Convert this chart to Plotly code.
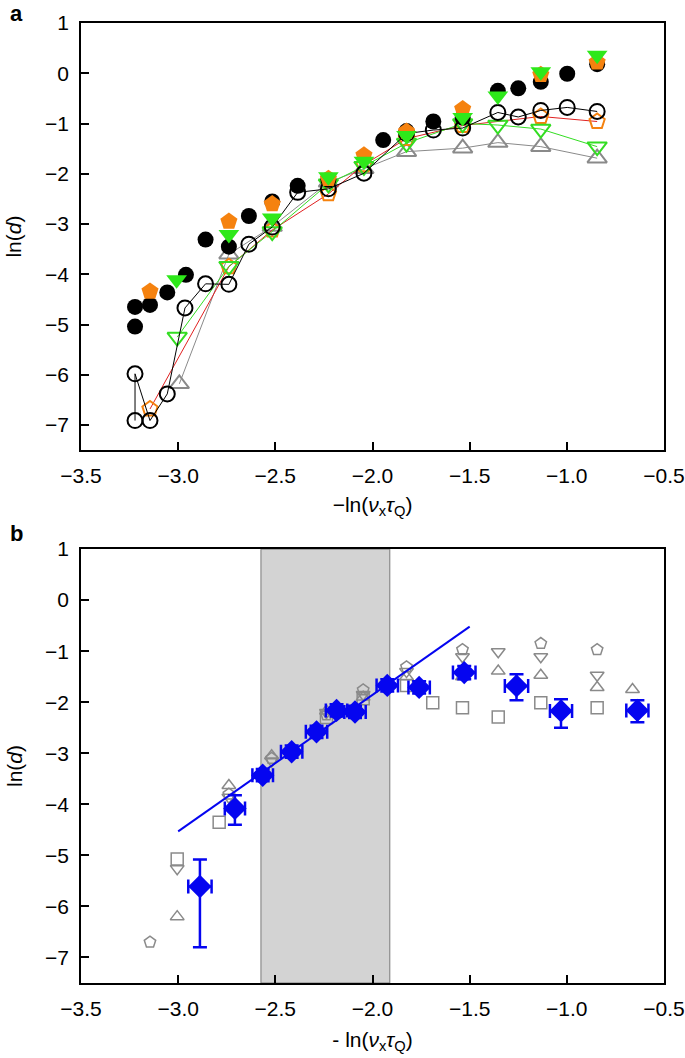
import plotly.graph_objects as go

# ---------------- Panel a data ----------------
a_filled_circle_x = [-3.222, -3.222, -3.145, -3.056, -2.960, -2.859, -2.739, -2.636, -2.516, -2.385,
                     -2.227, -1.945, -1.825, -1.687, -1.536, -1.355, -1.250, -1.134, -0.998, -0.844]
a_filled_circle_y = [-4.65, -5.04, -4.61, -4.36, -4.01, -3.31, -3.45, -2.84, -2.55, -2.24,
                     -2.12, -1.33, -1.15, -0.96, -0.88, -0.35, -0.30, -0.17, -0.01, 0.18]

a_open_circle_x = [-3.222, -3.222, -3.145, -3.056, -2.965, -2.859, -2.739, -2.636, -2.516, -2.385,
                   -2.227, -2.044, -1.825, -1.687, -1.536, -1.355, -1.250, -1.134, -0.998, -0.844]
a_open_circle_y = [-6.91, -5.98, -6.91, -6.38, -4.67, -4.19, -4.20, -3.40, -3.06, -2.37,
                   -2.30, -1.99, -1.20, -1.13, -1.09, -0.78, -0.87, -0.74, -0.68, -0.76]

a_filled_pent_x = [-3.145, -2.739, -2.516, -2.227, -2.044, -1.825, -1.536, -1.134, -0.844]
a_filled_pent_y = [-4.34, -2.95, -2.60, -2.10, -1.63, -1.16, -0.71, -0.03, 0.22]

a_filled_tri_x = [-3.008, -2.739, -2.516, -2.227, -2.044, -1.825, -1.536, -1.355, -1.134, -0.844]
a_filled_tri_y = [-4.11, -3.21, -2.88, -2.06, -1.75, -1.24, -0.88, -0.45, 0.03, 0.36]

a_open_pent_x = [-3.145, -2.739, -2.516, -2.227, -2.044, -1.825, -1.536, -1.134, -0.844]
a_open_pent_y = [-6.68, -3.85, -3.12, -2.40, -1.82, -1.30, -1.04, -0.86, -0.96]

a_open_tridown_x = [-3.005, -2.739, -2.516, -2.227, -2.044, -1.825, -1.536, -1.355, -1.134, -0.844]
a_open_tridown_y = [-5.25, -3.84, -3.15, -2.20, -1.85, -1.39, -1.00, -1.03, -1.11, -1.46]

a_open_triup_x = [-2.994, -2.739, -2.516, -2.227, -2.044, -1.825, -1.536, -1.355, -1.134, -0.844]
a_open_triup_y = [-6.18, -3.60, -3.05, -2.17, -1.90, -1.56, -1.49, -1.38, -1.46, -1.69]

# ---------------- Panel b data ----------------
b_pent_x = [-3.145, -2.739, -2.519, -2.237, -2.048, -1.825, -1.537, -1.134, -0.844]
b_pent_y = [-6.70, -3.80, -3.10, -2.25, -1.76, -1.31, -0.97, -0.85, -0.97]

b_tridown_x = [-3.005, -2.739, -2.519, -2.237, -2.048, -1.825, -1.537, -1.353, -1.134, -0.844]
b_tridown_y = [-5.26, -3.86, -3.15, -2.20, -1.85, -1.40, -1.11, -1.01, -1.11, -1.47]

b_triup_x = [-3.005, -2.739, -2.519, -2.237, -2.048, -1.825, -1.537, -1.353, -1.134, -0.844, -0.662]
b_triup_y = [-6.20, -3.63, -3.05, -2.17, -1.90, -1.50, -1.50, -1.39, -1.47, -1.71, -1.75]

b_square_x = [-3.005, -2.789, -2.237, -2.048, -1.825, -1.690, -1.537, -1.353, -1.134, -0.844]
b_square_y = [-5.07, -4.35, -2.30, -1.93, -1.67, -2.01, -2.11, -2.29, -2.01, -2.11]

b_mean_x = [-2.888, -2.708, -2.565, -2.416, -2.288, -2.185, -2.090, -1.924, -1.760, -1.528, -1.259, -1.030, -0.637]
b_mean_y = [-5.61, -4.08, -3.43, -2.97, -2.58, -2.16, -2.19, -1.67, -1.71, -1.42, -1.68, -2.17, -2.16]
b_err_y_plus = [0.53, 0.26, 0.12, 0.12, 0.12, 0.12, 0.12, 0.12, 0.12, 0.13, 0.23, 0.23, 0.20]
b_err_y_minus = [1.19, 0.32, 0.12, 0.12, 0.12, 0.12, 0.12, 0.12, 0.12, 0.13, 0.28, 0.33, 0.23]
b_err_x = [0.060, 0.052, 0.053, 0.055, 0.055, 0.055, 0.055, 0.055, 0.055, 0.058, 0.060, 0.057, 0.057]

fit_x = [-3.0, -1.5]
fit_y = [-4.53, -0.52]

shade_x = [-2.574, -1.911]

x_ticks = [-3.5, -3.0, -2.5, -2.0, -1.5, -1.0, -0.5]
y_ticks = [1, 0, -1, -2, -3, -4, -5, -6, -7]

# ---------------- styles ----------------
FONT = "Liberation Sans, Arial, Helvetica, sans-serif"
GREEN = "#2ee81a"
GREEN_OPEN = "#33dd22"
ORANGE = "#f5820f"
GRAY = "#8a8a8a"
RED = "#e02020"
BLUE = "#0505f0"

fig = go.Figure()

# Panel a traces
fig.add_trace(go.Scatter(x=a_open_triup_x, y=a_open_triup_y, mode="lines+markers",
                         line=dict(color=GRAY, width=1),
                         marker=dict(symbol="triangle-up-open", size=17, color=GRAY, line=dict(width=2, color=GRAY)),
                         xaxis="x", yaxis="y", showlegend=False))
fig.add_trace(go.Scatter(x=a_open_pent_x, y=a_open_pent_y, mode="lines+markers",
                         line=dict(color=RED, width=1),
                         marker=dict(symbol="pentagon-open", size=16, color=ORANGE, line=dict(width=2, color=ORANGE)),
                         xaxis="x", yaxis="y", showlegend=False))
fig.add_trace(go.Scatter(x=a_open_tridown_x, y=a_open_tridown_y, mode="lines+markers",
                         line=dict(color=GREEN_OPEN, width=1),
                         marker=dict(symbol="triangle-down-open", size=17, color=GREEN_OPEN, line=dict(width=2, color=GREEN_OPEN)),
                         xaxis="x", yaxis="y", showlegend=False))
fig.add_trace(go.Scatter(x=a_open_circle_x, y=a_open_circle_y, mode="lines+markers",
                         line=dict(color="black", width=1),
                         marker=dict(symbol="circle-open", size=15, color="black", line=dict(width=2, color="black")),
                         xaxis="x", yaxis="y", showlegend=False))
fig.add_trace(go.Scatter(x=a_filled_circle_x, y=a_filled_circle_y, mode="markers",
                         marker=dict(symbol="circle", size=16, color="black"),
                         xaxis="x", yaxis="y", showlegend=False))
fig.add_trace(go.Scatter(x=a_filled_pent_x, y=a_filled_pent_y, mode="markers",
                         marker=dict(symbol="pentagon", size=18, color=ORANGE),
                         xaxis="x", yaxis="y", showlegend=False))
fig.add_trace(go.Scatter(x=a_filled_tri_x, y=a_filled_tri_y, mode="markers",
                         marker=dict(symbol="triangle-down", size=18, color=GREEN),
                         xaxis="x", yaxis="y", showlegend=False))

# Panel b traces
gray_mk = dict(size=12, color=GRAY, line=dict(width=1.5, color=GRAY))
for xs, ys, sym in [(b_pent_x, b_pent_y, "pentagon-open"),
                    (b_tridown_x, b_tridown_y, "triangle-down-open"),
                    (b_triup_x, b_triup_y, "triangle-up-open"),
                    (b_square_x, b_square_y, "square-open")]:
    fig.add_trace(go.Scatter(x=xs, y=ys, mode="markers",
                             marker=dict(symbol=sym, **gray_mk),
                             xaxis="x2", yaxis="y2", showlegend=False))

fig.add_trace(go.Scatter(x=fit_x, y=fit_y, mode="lines", line=dict(color=BLUE, width=2),
                         xaxis="x2", yaxis="y2", showlegend=False))
fig.add_trace(go.Scatter(x=b_mean_x, y=b_mean_y, mode="markers",
                         marker=dict(symbol="diamond", size=18, color=BLUE),
                         error_y=dict(type="data", symmetric=False, array=b_err_y_plus, arrayminus=b_err_y_minus,
                                      color=BLUE, thickness=2.5, width=7),
                         error_x=dict(type="data", array=b_err_x, color=BLUE, thickness=2.5, width=7),
                         xaxis="x2", yaxis="y2", showlegend=False))

fig.add_shape(type="rect", xref="x2", yref="y2 domain", x0=shade_x[0], x1=shade_x[1], y0=0, y1=1,
              fillcolor="#d3d3d3", line=dict(color="#7a7a7a", width=1), layer="below")

axis_common = dict(showgrid=False, zeroline=False, showline=True, linecolor="black", linewidth=1.5,
                   mirror=True, ticks="inside", ticklen=8, tickwidth=1.5, tickcolor="black",
                   automargin=False,
                   tickfont=dict(family=FONT, size=21, color="black"))

xtitle_font = dict(family=FONT, size=21, color="black")

fig.update_layout(
    width=685, height=1058,
    margin=dict(l=81, r=21, t=23, b=75),
    paper_bgcolor="white", plot_bgcolor="white",
    font=dict(family=FONT, size=21, color="black"),
    xaxis=dict(domain=[0, 1], anchor="y", range=[-3.5, -0.5], tickvals=x_ticks, tickformat=".1f",
               title=dict(text="−ln(<i>ν</i><sub>x</sub><i>τ</i><sub>Q</sub>)", font=xtitle_font, standoff=11),
               ticklabelstandoff=6, **axis_common),
    yaxis=dict(domain=[0.555, 1], anchor="x", range=[-7.5, 1], tickvals=y_ticks,
               ticklabelstandoff=6, **axis_common),
    xaxis2=dict(domain=[0, 1], anchor="y2", range=[-3.5, -0.5], tickvals=x_ticks, tickformat=".1f",
                title=dict(text="- ln(<i>ν</i><sub>x</sub><i>τ</i><sub>Q</sub>)", font=xtitle_font, standoff=13),
                ticklabelstandoff=6, **axis_common),
    yaxis2=dict(domain=[0, 0.452], anchor="x2", range=[-7.5, 1], tickvals=y_ticks,
                ticklabelstandoff=6, **axis_common),
)

# y-axis titles and panel labels
for ycen in [(0.555 + 1) / 2, 0.452 / 2]:
    fig.add_annotation(text="ln(<i>d</i>)", xref="paper", yref="paper", x=0, y=ycen,
                       xshift=-67, textangle=-90, showarrow=False,
                       font=dict(family=FONT, size=21, color="black"), xanchor="center", yanchor="middle")

fig.add_annotation(text="<b>a</b>", xref="paper", yref="paper", x=0, y=1, xshift=-73, yshift=10,
                   showarrow=False, xanchor="left", yanchor="middle",
                   font=dict(family=FONT, size=22, color="black"))
fig.add_annotation(text="<b>b</b>", xref="paper", yref="paper", x=0, y=0.452, xshift=-73, yshift=16,
                   showarrow=False, xanchor="left", yanchor="middle",
                   font=dict(family=FONT, size=22, color="black"))

fig.write_html("out.html", config={"displayModeBar": False},
               post_script="document.body.style.margin='0';document.body.style.overflow='hidden';")
